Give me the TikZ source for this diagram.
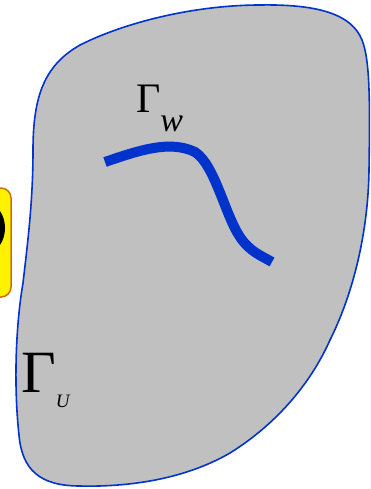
\documentclass[tikz,border=0pt]{standalone}
\usepackage{fontspec}
\setmainfont{Liberation Serif}
\usepackage{tikz}
\usetikzlibrary{positioning}
\colorlet{edge blue}{rgb,255:red,0;green,51;blue,204}
\colorlet{region grey}{rgb,255:red,192;green,192;blue,192}
\colorlet{box orange}{rgb,255:red,208;green,112;blue,0}
\tikzstyle{region} = [fill=region grey,draw=edge blue,line width=1.6pt]
\tikzstyle{wcurve} = [draw=edge blue,line width=10pt]
\tikzstyle{label} = [inner sep=0pt,anchor=base west]

\begin{document}
\begin{tikzpicture}[x=1pt,y=-1pt]
		\useasboundingbox (0,0) rectangle (370,489);
		\clip (0,0) rectangle (370,489);
		% yellow box at the left edge
		\draw[fill=yellow,draw=box orange,line width=1.5pt,rounded corners=10pt] (-40,188) rectangle (11,297);
		\fill[black] (-12,228) ellipse [x radius=17,y radius=24];
		% the region
		\path[region] (260,5) .. controls (320,4) and (352,15) .. (362,40)
			.. controls (370,60) and (370,100) .. (369,170)
			.. controls (368,240) and (350,300) .. (330,340)
			.. controls (310,385) and (275,425) .. (230,453)
			.. controls (180,482) and (120,487) .. (80,486)
			.. controls (40,486) and (22,470) .. (19,435)
			.. controls (14,390) and (15,330) .. (23,283)
			.. controls (28,240) and (33,200) .. (33,150)
			.. controls (33,95) and (45,65) .. (80,45)
			.. controls (130,20) and (200,5) .. (260,5) -- cycle;
		% the curve
		\draw[wcurve] (105,162) .. controls (140,150) and (170,140) .. (195,152)
			.. controls (215,165) and (225,215) .. (240,237)
			.. controls (250,252) and (262,256) .. (272,262);
		\node[label] (gw) at (136,113) {\fontsize{42}{42}\selectfont Γ\raisebox{-19pt}{\fontsize{34}{34}\selectfont\itshape w}};
		\node[label] (gu) at (21,392) {\fontsize{60}{60}\selectfont Γ\raisebox{-15pt}{\fontsize{19}{19}\selectfont\itshape U}};
	\end{tikzpicture}
\end{document}
